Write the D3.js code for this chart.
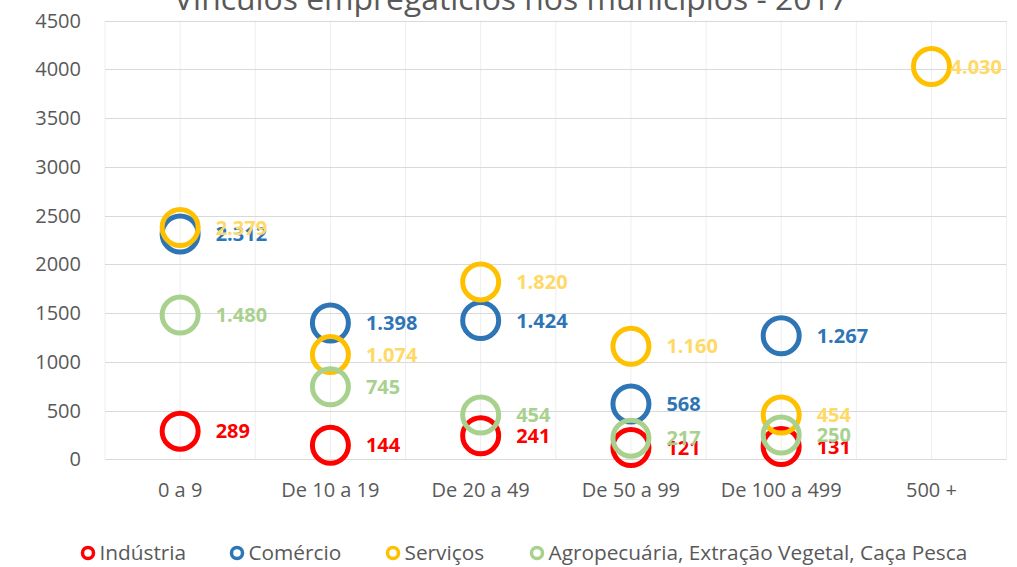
<!DOCTYPE html>
<html>
<head>
<meta charset="utf-8">
<script src="https://cdn.jsdelivr.net/npm/d3@7"></script>
<style>
  html, body { margin: 0; padding: 0; background: #ffffff; }
  svg { display: block; }
  text { font-family: "Open Sans", sans-serif; }
</style>
</head>
<body>
<svg id="chart" width="1017" height="567"></svg>
<script>
// ---- Data ----
const title = "Vínculos empregatícios nos municípios - 2017";
const categories = ["0 a 9", "De 10 a 19", "De 20 a 49", "De 50 a 99", "De 100 a 499", "500 +"];
const seriesNames = ["Indústria", "Comércio", "Serviços", "Agropecuária, Extração Vegetal, Caça Pesca"];
const industria = [289, 144, 241, 121, 131, null];
const comercio = [2312, 1398, 1424, 568, 1267, null];
const servicos = [2379, 1074, 1820, 1160, 454, 4030];
const agro = [1480, 745, 454, 217, 250, null];
const yTicks = [0, 500, 1000, 1500, 2000, 2500, 3000, 3500, 4000, 4500];

// ---- Styles ----
const markerColors = ["#ff0000", "#2e75b6", "#ffc000", "#a9d18e"];
const labelColors = ["#ff0000", "#2e75b6", "#ffd966", "#a9d18e"];
const seriesValues = [industria, comercio, servicos, agro];

const W = 1017, H = 567;
const svg = d3.select("#chart");

const x = d3.scaleLinear().domain([0.5, categories.length + 0.5]).range([105, 1006.6]);
const y = d3.scaleLinear().domain([0, 4500]).range([459.3, 20.7]);

const ptBR = d3.formatLocale({decimal: ",", thousands: ".", grouping: [3], currency: ["R$", ""]});
const fmt = ptBR.format(",d");

// vertical gridlines every half category
const vTicks = d3.range(0.5, categories.length + 0.51, 0.5);
svg.append("g").selectAll("line").data(vTicks).join("line")
  .attr("x1", d => x(d)).attr("x2", d => x(d))
  .attr("y1", y(4500)).attr("y2", y(0))
  .attr("stroke", "#eeeeee").attr("stroke-width", 1);

// horizontal gridlines
svg.append("g").selectAll("line").data(yTicks).join("line")
  .attr("x1", x.range()[0]).attr("x2", x.range()[1])
  .attr("y1", d => Math.round(y(d)) + 0.5).attr("y2", d => Math.round(y(d)) + 0.5)
  .attr("stroke", "#d9d9d9").attr("stroke-width", 1);

// y axis labels
svg.append("g").selectAll("text").data(yTicks).join("text")
  .attr("x", 81).attr("y", d => y(d))
  .attr("dy", "0.35em")
  .attr("text-anchor", "end")
  .attr("font-size", 20)
  .attr("fill", "#595959")
  .text(d => d);

// x axis labels
svg.append("g").selectAll("text").data(categories).join("text")
  .attr("x", (d, i) => x(i + 1)).attr("y", 490)
  .attr("dy", "0.35em")
  .attr("text-anchor", "middle")
  .attr("font-size", 20)
  .attr("fill", "#595959")
  .text(d => d);

// markers
seriesValues.forEach((vals, s) => {
  svg.append("g").selectAll("circle")
    .data(vals.map((v, i) => ({v, i})).filter(d => d.v != null))
    .join("circle")
    .attr("cx", d => x(d.i + 1)).attr("cy", d => y(d.v))
    .attr("r", 18)
    .attr("fill", "none")
    .attr("stroke", markerColors[s])
    .attr("stroke-width", 5);
});

// labels
seriesValues.forEach((vals, s) => {
  const g = svg.append("g");
  vals.forEach((v, i) => {
    if (v == null) return;
    const t = g.append("text")
      .attr("x", x(i + 1) + 35.5).attr("y", y(v))
      .attr("dy", "0.36em")
      .attr("font-size", 20)
      .attr("font-weight", "bold")
      .attr("fill", labelColors[s])
      .text(fmt(v));
    const w = t.node().getComputedTextLength();
    if (x(i + 1) + 35.5 + w > W - 15) t.attr("x", W - 15 - w);
  });
});

// title (clipped at top as in reference)
const tt = svg.append("text")
  .attr("x", 511).attr("y", 9.5)
  .attr("text-anchor", "middle")
  .attr("font-size", 28)
  .attr("fill", "#595959")
  .text(title);
const tw = tt.node().getComputedTextLength();
tt.attr("font-size", 28 * 674 / tw);

// legend
const legendX = [88, 237, 393, 537];
const lg = svg.append("g");
seriesNames.forEach((name, s) => {
  lg.append("circle")
    .attr("cx", legendX[s]).attr("cy", 553)
    .attr("r", 5.5)
    .attr("fill", "none")
    .attr("stroke", markerColors[s])
    .attr("stroke-width", 3.5);
  lg.append("text")
    .attr("x", legendX[s] + 11.5).attr("y", 553)
    .attr("dy", "0.35em")
    .attr("font-size", 20.8)
    .attr("fill", "#595959")
    .text(name);
});
</script>
</body>
</html>
